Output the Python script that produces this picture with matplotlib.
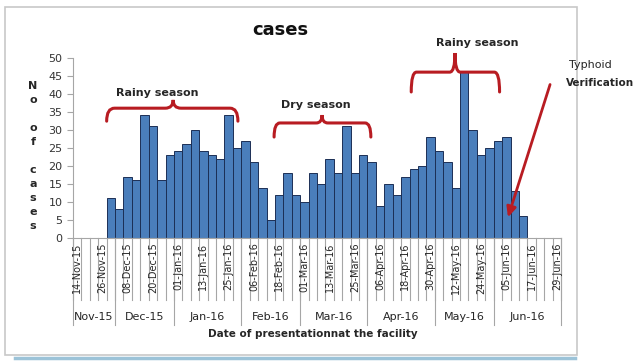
import matplotlib.pyplot as plt
from matplotlib.path import Path
from matplotlib.patches import PathPatch, Rectangle
import pandas as pd

# 4-day slots on the date axis, 14-Nov-15 .. 29-Jun-16
slot_dates = pd.date_range("2015-11-14", "2016-06-29", freq="4D")
first_bar = pd.Timestamp("2015-11-30")
cases = [11, 8, 17, 16, 34, 31, 16, 23, 24, 26, 30, 24, 23, 22, 34, 25, 27, 21,
         14, 5, 12, 18, 12, 10, 18, 15, 22, 18, 31, 18, 23, 21, 9, 15, 12, 17,
         19, 20, 28, 24, 21, 14, 46, 30, 23, 25, 27, 28, 13, 6]
yticks = list(range(0, 51, 5))

RED = "#B81C22"
GRID = "#A6A6A6"
TXT = "#262626"

fig = plt.figure(figsize=(6.42, 3.61), dpi=100)
ax = fig.add_axes([73 / 642, 1 - 238 / 361, 488 / 642, 180.3 / 361])

n_slots = len(slot_dates)
start = int((first_bar - slot_dates[0]).days / 4)
xs = [start + i + 0.5 for i in range(len(cases))]
ax.bar(xs, cases, width=1.0, color="#4A7EBB", edgecolor="#1C2F55", linewidth=0.7)

ax.set_xlim(0, n_slots)
ax.set_ylim(0, 50)
ax.set_yticks(yticks)
ax.tick_params(axis="y", labelsize=8, colors="#333333", length=4, color=GRID)
ax.set_xticks([])
for s in ["top", "right"]:
    ax.spines[s].set_visible(False)
for s in ["left", "bottom"]:
    ax.spines[s].set_color(GRID)

trans = ax.get_xaxis_transform()
# date row: a line at every slot, a label every third slot
for k in range(n_slots + 1):
    ax.plot([k, k], [0, -0.344], color=GRID, lw=0.8, transform=trans, clip_on=False)
for k in range(0, n_slots, 3):
    ax.text(k + 0.5, -0.025, slot_dates[k].strftime("%d-%b-%y"), rotation=90,
            ha="center", va="top", fontsize=7, color=TXT,
            transform=trans, clip_on=False)

# month row
months = slot_dates.to_period("M")
bounds = [0]
for k in range(1, n_slots):
    if months[k] != months[k - 1]:
        bounds.append(k)
bounds.append(n_slots)
for b in bounds:
    ax.plot([b, b], [0, -0.483], color=GRID, lw=0.8, transform=trans, clip_on=False)
for a, b in zip(bounds[:-1], bounds[1:]):
    ax.text((a + b) / 2, -0.438, slot_dates[a].strftime("%b-%y"), ha="center",
            va="center", fontsize=8, color=TXT, transform=trans)

ax.text(n_slots / 2 - 0.5, -0.535, "Date of presentationnat the facility",
        ha="center", va="center", fontsize=7.5, fontweight="bold",
        color=TXT, transform=trans)

fig.text(33 / 642, 1 - 156 / 361, "N\no\n\no\nf\n\nc\na\ns\ne\ns", ha="center",
         va="center", fontsize=8, fontweight="bold", linespacing=1.5,
         color=TXT)

fig.text(280 / 642, 1 - 30 / 361, "cases", ha="center", va="center",
         fontsize=13, fontweight="bold", color="#111111")


def brace(x0, x1, xt, yb, yh, ytip):
    r = (x1 - x0) * 0.06
    verts = [(x0, yb), (x0, yh), (x0 + r, yh),
             (xt - r, yh), (xt, yh), (xt, ytip),
             (xt, yh), (xt + r, yh),
             (x1 - r, yh), (x1, yh), (x1, yb)]
    codes = [Path.MOVETO, Path.CURVE3, Path.CURVE3,
             Path.LINETO, Path.CURVE3, Path.CURVE3,
             Path.CURVE3, Path.CURVE3,
             Path.LINETO, Path.CURVE3, Path.CURVE3]
    ax.add_patch(PathPatch(Path(verts, codes), fill=False, edgecolor=RED,
                           lw=2.2, capstyle="round", clip_on=False))


brace(4.0, 19.6, 11.9, 32.4, 36.0, 38.3)
ax.text(10.0, 40.2, "Rainy season", ha="center", va="center", fontsize=8,
        fontweight="bold", color=TXT)
brace(23.9, 35.4, 29.6, 28.0, 31.9, 34.1)
ax.text(28.8, 36.9, "Dry season", ha="center", va="center", fontsize=8,
        fontweight="bold", color=TXT)
brace(40.2, 50.7, 45.4, 40.5, 46.0, 51.3)
ax.text(48.0, 54.1, "Rainy season", ha="center", va="center", fontsize=8,
        fontweight="bold", color=TXT, clip_on=False)

ax.annotate("", xy=(51.6, 5.0), xytext=(56.8, 43.3),
            arrowprops=dict(arrowstyle="-|>,head_length=0.6,head_width=0.28",
                            color=RED, lw=2.0), annotation_clip=False)
fig.text(590 / 642, 1 - 65 / 361, "Typhoid", ha="center", va="center",
         fontsize=8, color=TXT)
fig.text(600 / 642, 1 - 83 / 361, "Verification", ha="center", va="center",
         fontsize=7.5, fontweight="bold", color=TXT)

# chart frame and bottom shadow
fig.add_artist(Rectangle((5 / 642, 1 - 355 / 361), 572 / 642, 348 / 361,
                         transform=fig.transFigure, fill=False,
                         edgecolor="#C8C8C8", lw=1.2))
fig.add_artist(plt.Line2D([15 / 642, 575 / 642], [1 - 358 / 361] * 2,
                          transform=fig.transFigure, color="#9CC3D8", lw=2.5))

fig.savefig("out.png", dpi=100)
